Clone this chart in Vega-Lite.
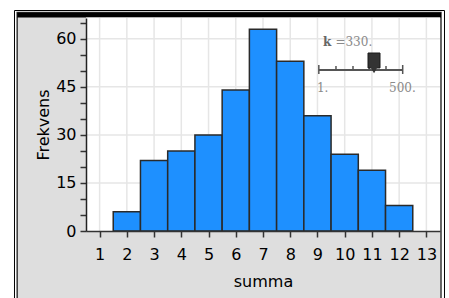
{
  "$schema": "https://vega.github.io/schema/vega-lite/v6.json",
  "width": 354,
  "height": 213,
  "autosize": {"type": "none"},
  "padding": {"left": 86, "top": 18, "right": 9, "bottom": 67},
  "background": "white",
  "config": {"view": {"stroke": null}, "font": "DejaVu Sans", "axis": {"grid": false}},
  "resolve": {"axis": {"x": "independent", "y": "independent"}},
  "datasets": {
    "histogram": [
      {"summa": 2, "fra": 1.5, "til": 2.5, "frekvens": 6},
      {"summa": 3, "fra": 2.5, "til": 3.5, "frekvens": 22},
      {"summa": 4, "fra": 3.5, "til": 4.5, "frekvens": 25},
      {"summa": 5, "fra": 4.5, "til": 5.5, "frekvens": 30},
      {"summa": 6, "fra": 5.5, "til": 6.5, "frekvens": 44},
      {"summa": 7, "fra": 6.5, "til": 7.5, "frekvens": 63},
      {"summa": 8, "fra": 7.5, "til": 8.5, "frekvens": 53},
      {"summa": 9, "fra": 8.5, "til": 9.5, "frekvens": 36},
      {"summa": 10, "fra": 9.5, "til": 10.5, "frekvens": 24},
      {"summa": 11, "fra": 10.5, "til": 11.5, "frekvens": 19},
      {"summa": 12, "fra": 11.5, "til": 12.5, "frekvens": 8}
    ],
    "gridx": [{"v": 1}, {"v": 2}, {"v": 3}, {"v": 4}, {"v": 5}, {"v": 6}, {"v": 7}, {"v": 8}, {"v": 9}, {"v": 10}, {"v": 11}, {"v": 12}, {"v": 13}],
    "gridy": [{"v": 15}, {"v": 30}, {"v": 45}, {"v": 60}],
    "sliderticks": [
      {"x": 9.05, "ya": 49.02, "yb": 51.83},
      {"x": 9.68, "ya": 50.27, "yb": 51.52},
      {"x": 10.305, "ya": 50.27, "yb": 51.52},
      {"x": 10.9, "ya": 50.27, "yb": 51.52},
      {"x": 11.517, "ya": 50.27, "yb": 51.52},
      {"x": 12.13, "ya": 49.02, "yb": 51.83}
    ],
    "sliderlabels": [
      {"x": 9.66, "y": 57.8, "tekst": "=330."},
      {"x": 8.98, "y": 43.4, "tekst": "1."},
      {"x": 11.63, "y": 43.4, "tekst": "500."}
    ],
    "one": [{"a": 1}]
  },
  "layer": [
    {
      "data": {"name": "one"},
      "mark": {"type": "rect", "color": "#dedede", "stroke": "#3a3a3a", "strokeWidth": 1.5, "clip": false},
      "encoding": {
        "x": {"datum": -2.027, "type": "quantitative", "scale": {"domain": [0.5, 13.5], "nice": false, "zero": false}, "axis": null},
        "x2": {"datum": 13.537},
        "y": {"datum": 68.2, "type": "quantitative", "scale": {"domain": [0, 66.5], "nice": false, "zero": false}, "axis": null},
        "y2": {"datum": -25}
      }
    },
    {
      "data": {"name": "one"},
      "mark": {"type": "rect", "filled": false, "color": "black", "strokeWidth": 1, "clip": false},
      "encoding": {
        "x": {"datum": -2.126, "type": "quantitative", "scale": {"domain": [0.5, 13.5], "nice": false, "zero": false}, "axis": null},
        "x2": {"datum": 13.665},
        "y": {"datum": 68.84, "type": "quantitative", "scale": {"domain": [0, 66.5], "nice": false, "zero": false}, "axis": null},
        "y2": {"datum": -25}
      }
    },
    {
      "data": {"name": "one"},
      "mark": {"type": "rect", "color": "black", "clip": false},
      "encoding": {
        "x": {"datum": -2.027, "type": "quantitative", "scale": {"domain": [0.5, 13.5], "nice": false, "zero": false}, "axis": null},
        "x2": {"datum": 13.537},
        "y": {"datum": 68.22, "type": "quantitative", "scale": {"domain": [0, 66.5], "nice": false, "zero": false}, "axis": null},
        "y2": {"datum": 66.62}
      }
    },
    {
      "data": {"name": "one"},
      "mark": {"type": "rect", "color": "white", "clip": false},
      "encoding": {
        "x": {"datum": 0.5, "type": "quantitative", "scale": {"domain": [0.5, 13.5], "nice": false, "zero": false}, "axis": null},
        "x2": {"datum": 13.5},
        "y": {"datum": 66.62, "type": "quantitative", "scale": {"domain": [0, 66.5], "nice": false, "zero": false}, "axis": null},
        "y2": {"datum": 0}
      }
    },
    {
      "data": {"name": "gridx"},
      "mark": {"type": "rule", "color": "#e6e6e6", "strokeWidth": 1.5},
      "encoding": {
        "x": {"field": "v", "type": "quantitative", "scale": {"domain": [0.5, 13.5], "nice": false, "zero": false}, "axis": null}
      }
    },
    {
      "data": {"name": "gridy"},
      "mark": {"type": "rule", "color": "#e6e6e6", "strokeWidth": 1.5},
      "encoding": {
        "y": {"field": "v", "type": "quantitative", "scale": {"domain": [0, 66.5], "nice": false, "zero": false}, "axis": null}
      }
    },
    {
      "data": {"name": "histogram"},
      "mark": {"type": "rect", "color": "#1e90ff", "stroke": "#2a2a2a", "strokeWidth": 1.5},
      "encoding": {
        "x": {
          "field": "fra", "type": "quantitative",
          "scale": {"domain": [0.5, 13.5], "nice": false, "zero": false},
          "axis": {
            "orient": "bottom",
            "title": "summa", "values": [1, 2, 3, 4, 5, 6, 7, 8, 9, 10, 11, 12, 13], "format": "d",
            "labelOverlap": false, "labelBound": false, "labelFlush": false,
            "grid": false, "zindex": 1, "domainColor": "#333", "domainWidth": 1.5, "tickColor": "#333", "tickWidth": 1.5, "tickSize": 6,
            "labelFontSize": 16, "labelColor": "black", "labelPadding": 9, "labelFont": "DejaVu Sans",
            "titleFontSize": 16, "titleFontWeight": "normal", "titleColor": "black", "titlePadding": 11, "titleFont": "DejaVu Sans"
          }
        },
        "x2": {"field": "til"},
        "y": {
          "field": "frekvens", "type": "quantitative",
          "scale": {"domain": [0, 66.5], "nice": false, "zero": false},
          "axis": {
            "orient": "left",
            "title": "Frekvens", "values": [0, 5, 10, 15, 20, 25, 30, 35, 40, 45, 50, 55, 60, 65],
            "labelExpr": "datum.value % 15 === 0 ? datum.label : ''",
            "labelOverlap": false, "labelBound": false, "labelFlush": false,
            "grid": false, "zindex": 1, "domainColor": "#222", "domainWidth": 1.5, "tickColor": "#333", "tickWidth": 1.5, "tickSize": 6,
            "labelFontSize": 16, "labelColor": "black", "labelPadding": 4, "labelFont": "DejaVu Sans",
            "titleFontSize": 16, "titleFontWeight": "normal", "titleColor": "black", "titlePadding": 4, "titleFont": "DejaVu Sans"
          }
        },
        "y2": {"datum": 0}
      }
    },
    {
      "data": {"name": "one"},
      "mark": {"type": "rule", "color": "#555", "strokeWidth": 2},
      "encoding": {
        "x": {"datum": 9.05, "type": "quantitative", "scale": {"domain": [0.5, 13.5], "nice": false, "zero": false}, "axis": null},
        "x2": {"datum": 12.13},
        "y": {"datum": 50.27, "type": "quantitative", "scale": {"domain": [0, 66.5], "nice": false, "zero": false}, "axis": null}
      }
    },
    {
      "data": {"name": "sliderticks"},
      "mark": {"type": "rule", "color": "#555", "strokeWidth": 1.5},
      "encoding": {
        "x": {"field": "x", "type": "quantitative", "scale": {"domain": [0.5, 13.5], "nice": false, "zero": false}, "axis": null},
        "y": {"field": "ya", "type": "quantitative", "scale": {"domain": [0, 66.5], "nice": false, "zero": false}, "axis": null},
        "y2": {"field": "yb"}
      }
    },
    {
      "data": {"name": "one"},
      "mark": {"type": "rect", "color": "#333", "stroke": "#1a1a1a", "strokeWidth": 1},
      "encoding": {
        "x": {"datum": 10.856, "type": "quantitative", "scale": {"domain": [0.5, 13.5], "nice": false, "zero": false}, "axis": null},
        "x2": {"datum": 11.297},
        "y": {"datum": 55.57, "type": "quantitative", "scale": {"domain": [0, 66.5], "nice": false, "zero": false}, "axis": null},
        "y2": {"datum": 50.9}
      }
    },
    {
      "data": {"name": "one"},
      "mark": {"type": "point", "shape": "triangle-down", "filled": true, "color": "#333", "size": 70, "opacity": 1},
      "encoding": {
        "x": {"datum": 11.077, "type": "quantitative", "scale": {"domain": [0.5, 13.5], "nice": false, "zero": false}, "axis": null},
        "y": {"datum": 50.4, "type": "quantitative", "scale": {"domain": [0, 66.5], "nice": false, "zero": false}, "axis": null}
      }
    },
    {
      "data": {"name": "one"},
      "mark": {"type": "text", "text": "k", "font": "DejaVu Serif", "fontWeight": "bold", "fontSize": 12, "color": "#666", "align": "left", "baseline": "alphabetic"},
      "encoding": {
        "x": {"datum": 9.2, "type": "quantitative", "scale": {"domain": [0.5, 13.5], "nice": false, "zero": false}, "axis": null},
        "y": {"datum": 57.8, "type": "quantitative", "scale": {"domain": [0, 66.5], "nice": false, "zero": false}, "axis": null}
      }
    },
    {
      "data": {"name": "sliderlabels"},
      "mark": {"type": "text", "font": "DejaVu Serif", "fontSize": 12, "color": "#8a8a8a", "align": "left", "baseline": "alphabetic"},
      "encoding": {
        "x": {"field": "x", "type": "quantitative", "scale": {"domain": [0.5, 13.5], "nice": false, "zero": false}, "axis": null},
        "y": {"field": "y", "type": "quantitative", "scale": {"domain": [0, 66.5], "nice": false, "zero": false}, "axis": null},
        "text": {"field": "tekst"}
      }
    }
  ]
}
